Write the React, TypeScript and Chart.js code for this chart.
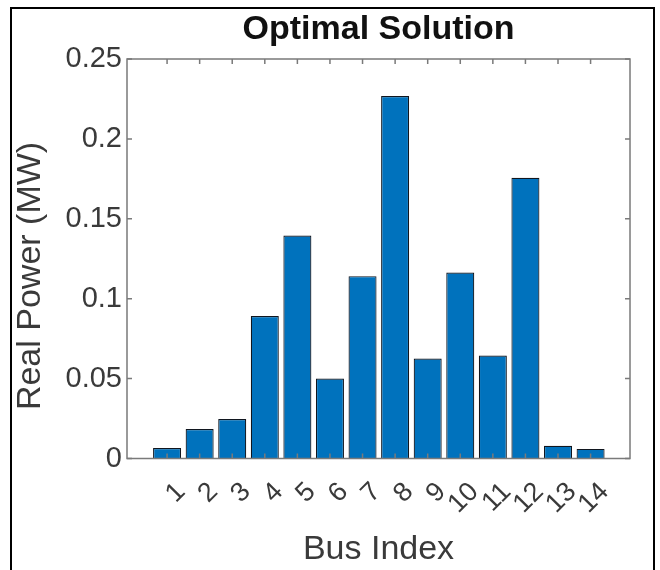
import React, { useEffect, useRef } from "react";
import { Chart, registerables } from "chart.js";

Chart.register(...registerables);

const busIndex = [1, 2, 3, 4, 5, 6, 7, 8, 9, 10, 11, 12, 13, 14];
const busLabels = ["1", "2", "3", "4", "5", "6", "7", "8", "9", "10", "11", "12", "13", "14"];
const realPower = [0.0066, 0.0184, 0.0247, 0.0891, 0.1395, 0.0501, 0.1141, 0.2268, 0.0626, 0.1164, 0.0645, 0.1757, 0.008, 0.006];
const yTickValues = [0, 0.05, 0.1, 0.15, 0.2, 0.25];

const chartTitle = "Optimal Solution";
const xTitle = "Bus Index";
const yTitle = "Real Power (MW)";

const FONT = "'Liberation Sans', Arial, Helvetica, sans-serif";
const AXIS_COLOR = "#7a7a7a";
const TEXT_COLOR = "#3a3a3a";

const matlabAxesPlugin = {
  id: "matlabAxes",
  afterDraw(chart: any) {
    const { ctx, chartArea } = chart;
    const xs = chart.scales.x;
    const ys = chart.scales.y;
    const { left, right, top, bottom } = chartArea;
    ctx.save();
    // box
    ctx.strokeStyle = AXIS_COLOR;
    ctx.lineWidth = 1.5;
    ctx.strokeRect(left, top, right - left, bottom - top);
    // ticks (inward)
    const tl = 5;
    ctx.beginPath();
    yTickValues.forEach((v) => {
      const py = ys.getPixelForValue(v);
      ctx.moveTo(left, py);
      ctx.lineTo(left + tl, py);
      ctx.moveTo(right, py);
      ctx.lineTo(right - tl, py);
    });
    busIndex.forEach((v) => {
      const px = xs.getPixelForValue(v);
      ctx.moveTo(px, bottom);
      ctx.lineTo(px, bottom - tl);
      ctx.moveTo(px, top);
      ctx.lineTo(px, top + tl);
    });
    ctx.stroke();
    // rotated x tick labels
    ctx.fillStyle = TEXT_COLOR;
    ctx.font = `27px ${FONT}`;
    ctx.textAlign = "right";
    ctx.textBaseline = "middle";
    busIndex.forEach((v, i) => {
      const px = xs.getPixelForValue(v);
      ctx.save();
      ctx.translate(px + 14, bottom + 29);
      ctx.rotate(-Math.PI / 4);
      ctx.fillText(busLabels[i], 0, 0);
      ctx.restore();
    });
    // y axis title
    ctx.save();
    ctx.font = `34px ${FONT}`;
    ctx.textAlign = "center";
    ctx.textBaseline = "alphabetic";
    ctx.translate(40, 276);
    ctx.rotate(-Math.PI / 2);
    ctx.fillText(yTitle, 0, 0);
    ctx.restore();
    ctx.restore();
  },
};

export default function App() {
  const canvasRef = useRef<HTMLCanvasElement | null>(null);

  useEffect(() => {
    const canvas = canvasRef.current;
    if (!canvas) return;
    const chart = new Chart(canvas, {
      type: "bar",
      data: {
        datasets: [
          {
            label: "Real Power",
            data: busIndex.map((b, i) => ({ x: b, y: realPower[i] })),
            backgroundColor: "#0072BD",
            borderColor: "#10161f",
            borderWidth: 1.2,
            barPercentage: 0.86,
            categoryPercentage: 1,
          },
        ],
      },
      options: {
        responsive: false,
        animation: false,
        layout: { padding: { left: 0, right: 30, top: 0, bottom: 0 } },
        plugins: {
          legend: { display: false },
          tooltip: { enabled: false },
          title: {
            display: true,
            text: chartTitle,
            fullSize: false,
            color: "#111111",
            font: { family: FONT, size: 34, weight: "bold", lineHeight: 1.2 },
            padding: { top: 9.6, bottom: 8.6 },
          },
        },
        scales: {
          x: {
            type: "linear",
            min: -0.23,
            max: 15.21,
            offset: false,
            grid: { display: false, drawTicks: false, offset: false },
            border: { display: false },
            ticks: { display: false },
            title: {
              display: true,
              text: xTitle,
              color: TEXT_COLOR,
              font: { family: FONT, size: 34, lineHeight: 1.2 },
              padding: { top: 3.6, bottom: 0 },
            },
            afterFit: (scale: any) => {
              scale.height = 111.5;
            },
          },
          y: {
            type: "linear",
            min: 0,
            max: 0.25,
            grid: { display: false, drawTicks: false },
            border: { display: false },
            ticks: {
              stepSize: 0.05,
              padding: 5,
              color: TEXT_COLOR,
              font: { family: FONT, size: 29 },
              callback: (v: any) => String(Number(Number(v).toFixed(2))),
            },
            afterFit: (scale: any) => {
              scale.width = 127;
            },
          },
        },
      },
      plugins: [matlabAxesPlugin],
    });
    return () => chart.destroy();
  }, []);

  return (
    <div style={{ position: "fixed", left: 0, top: 0, width: 660, height: 570, background: "#fff", overflow: "hidden" }}>
      <canvas ref={canvasRef} width={660} height={570} style={{ position: "absolute", left: 0, top: 0 }} />
      <div
        style={{
          position: "absolute",
          left: 10,
          top: 7,
          width: 645,
          height: 600,
          border: "2px solid #000",
          boxSizing: "border-box",
          pointerEvents: "none",
        }}
      />
    </div>
  );
}
